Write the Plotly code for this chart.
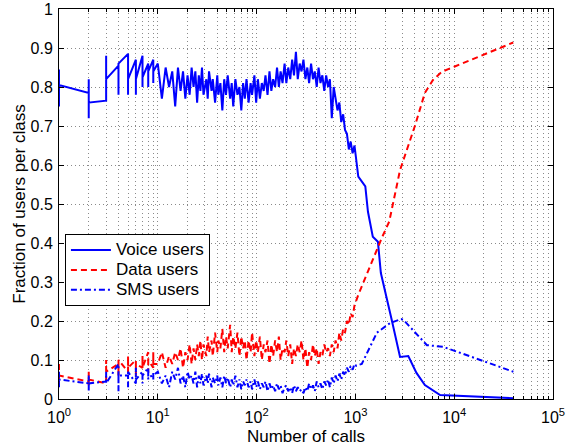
import plotly.graph_objects as go

# ---------------- data ----------------
# discrete region, x = 1..9 (several values per integer x)
low_x = [1, 1, 1, 2, 2, 2, 2, 3, 3, 3, 4, 4, 4, 5, 5, 5, 6, 6, 6, 7, 7, 7, 8, 8, 8, 9, 9, 9]
voice_low = [0.845, 0.75, 0.805, 0.785, 0.82, 0.72, 0.76, 0.765, 0.88, 0.82, 0.855, 0.78, 0.86,
             0.885, 0.78, 0.82, 0.87, 0.78, 0.82, 0.88, 0.80, 0.825, 0.86, 0.80, 0.84, 0.87, 0.81, 0.84]
data_low = [0.09, 0.035, 0.06, 0.045, 0.07, 0.035, 0.05, 0.04, 0.10, 0.07, 0.09, 0.06, 0.10,
            0.07, 0.11, 0.08, 0.10, 0.06, 0.09, 0.08, 0.11, 0.08, 0.12, 0.07, 0.10, 0.08, 0.12, 0.09]
sms_low = [0.07, 0.03, 0.05, 0.04, 0.06, 0.02, 0.04, 0.045, 0.07, 0.04, 0.09, 0.02, 0.06,
           0.06, 0.03, 0.07, 0.04, 0.08, 0.05, 0.07, 0.04, 0.06, 0.08, 0.05, 0.07, 0.05, 0.07, 0.06]

# noisy region, x = 10 .. ~1000
noise_x = [10, 11, 12, 13, 14, 15, 16, 17, 18, 19, 20, 21, 22,
           23, 24, 25, 26, 27, 28, 29,
           31, 32, 33, 35, 36, 38, 40, 41, 43, 45, 47, 49,
           51, 54, 56, 58, 61, 64, 67, 70, 73, 76, 79,
           83, 87, 90, 95, 99,
           103, 108, 113, 118, 123, 129, 135, 141, 147, 154, 161, 168, 175, 183, 192,
           200, 209, 219, 229, 239, 250, 261, 273, 285, 298,
           312, 326, 340, 356, 372, 388, 406, 424, 443, 463, 484,
           506, 529, 552, 577, 603, 630, 659, 688, 719, 752, 785,
           821, 858, 896, 937, 979]
voice_noise = [0.86, 0.77, 0.85, 0.80, 0.84, 0.75, 0.85, 0.79, 0.84, 0.77, 0.83, 0.78, 0.85,
               0.80, 0.84, 0.76, 0.83, 0.79, 0.85, 0.78,
               0.82, 0.77, 0.84, 0.79, 0.82, 0.76, 0.83, 0.78, 0.81, 0.74, 0.82, 0.78,
               0.83, 0.77, 0.81, 0.75, 0.82, 0.78, 0.80, 0.74, 0.81, 0.77, 0.82,
               0.76, 0.81, 0.78, 0.83, 0.76,
               0.82, 0.77, 0.81, 0.79, 0.83, 0.78, 0.84, 0.79, 0.82, 0.80, 0.85, 0.80, 0.84, 0.81, 0.86,
               0.81, 0.85, 0.82, 0.87, 0.83, 0.89, 0.82, 0.86, 0.84, 0.87,
               0.82, 0.85, 0.81, 0.86, 0.82, 0.84, 0.80, 0.85, 0.81, 0.83, 0.79,
               0.83, 0.80, 0.82, 0.72, 0.80, 0.77, 0.74, 0.76, 0.71, 0.73, 0.69,
               0.68, 0.64, 0.66, 0.63, 0.65]
data_noise = [0.09, 0.12, 0.08, 0.11, 0.09, 0.12, 0.10, 0.13, 0.08, 0.12, 0.10, 0.14, 0.09,
              0.13, 0.10, 0.14, 0.11, 0.15, 0.10, 0.14,
              0.11, 0.16, 0.12, 0.15, 0.11, 0.17, 0.12, 0.15, 0.13, 0.18, 0.12, 0.16,
              0.13, 0.19, 0.12, 0.16, 0.13, 0.17, 0.11, 0.16, 0.13, 0.15, 0.10,
              0.15, 0.12, 0.17, 0.11, 0.15,
              0.12, 0.16, 0.10, 0.14, 0.12, 0.15, 0.09, 0.14, 0.11, 0.15, 0.12, 0.16, 0.10, 0.13, 0.12,
              0.15, 0.11, 0.14, 0.09, 0.13, 0.11, 0.14, 0.12, 0.15, 0.10,
              0.13, 0.08, 0.12, 0.10, 0.14, 0.11, 0.13, 0.09, 0.12, 0.11, 0.14,
              0.12, 0.13, 0.11, 0.14, 0.12, 0.15, 0.13, 0.17, 0.15, 0.18, 0.17,
              0.20, 0.19, 0.22, 0.21, 0.24]
sms_noise = [0.07, 0.04, 0.06, 0.03, 0.07, 0.05, 0.08, 0.04, 0.06, 0.03, 0.07, 0.05, 0.06,
             0.04, 0.07, 0.03, 0.06, 0.04, 0.065, 0.035,
             0.06, 0.04, 0.065, 0.03, 0.055, 0.04, 0.06, 0.035, 0.055, 0.03, 0.06, 0.04,
             0.055, 0.03, 0.05, 0.035, 0.06, 0.03, 0.05, 0.025, 0.045, 0.035, 0.05,
             0.03, 0.045, 0.025, 0.05, 0.03,
             0.045, 0.025, 0.04, 0.03, 0.045, 0.02, 0.04, 0.025, 0.035, 0.02, 0.04, 0.025, 0.035, 0.015, 0.03,
             0.035, 0.02, 0.03, 0.015, 0.035, 0.02, 0.03, 0.02, 0.025, 0.015,
             0.03, 0.02, 0.04, 0.025, 0.035, 0.02, 0.045, 0.03, 0.04, 0.025, 0.045,
             0.035, 0.05, 0.03, 0.055, 0.04, 0.06, 0.045, 0.065, 0.05, 0.07, 0.06,
             0.08, 0.07, 0.085, 0.075, 0.09]

# smooth tails, x > 1000
voice_tail_x = [1030, 1070, 1260, 1340, 1500, 1690, 1810, 2030, 2330, 2830, 3430, 4150, 5050, 7200, 39500]
voice_tail = [0.60, 0.57, 0.545, 0.48, 0.416, 0.403, 0.323, 0.27, 0.203, 0.108, 0.11, 0.067, 0.036, 0.01, 0.002]
data_tail_x = [1070, 1400, 1850, 2200, 2830, 4000, 4790, 5050, 6100, 7500, 10000, 19600, 39600]
data_tail = [0.267, 0.34, 0.413, 0.455, 0.587, 0.70, 0.767, 0.785, 0.818, 0.839, 0.852, 0.882, 0.914]
sms_tail_x = [1020, 1160, 1650, 2250, 2900, 3060, 5300, 7700, 39700]
sms_tail = [0.085, 0.09, 0.17, 0.195, 0.205, 0.203, 0.138, 0.134, 0.07]

series_names = ["Voice users", "Data users", "SMS users"]
x_tickvals = [1, 10, 100, 1000, 10000, 100000]
x_ticktext = ["10<sup>0</sup>", "10<sup>1</sup>", "10<sup>2</sup>",
              "10<sup>3</sup>", "10<sup>4</sup>", "10<sup>5</sup>"]
y_tickvals = [0, 0.1, 0.2, 0.3, 0.4, 0.5, 0.6, 0.7, 0.8, 0.9, 1]
y_ticktext = ["0", "0.1", "0.2", "0.3", "0.4", "0.5", "0.6", "0.7", "0.8", "0.9", "1"]

# ---------------- figure ----------------
FONT = "Liberation Sans, Arial, sans-serif"
BLUE = "#0000FF"
RED = "#FF0000"


def legend_label(s):
    return '<span style="font-size:17px">' + s + '</span>'


fig = go.Figure()
fig.add_trace(go.Scatter(
    x=low_x + noise_x + voice_tail_x, y=voice_low + voice_noise + voice_tail,
    mode="lines", name=legend_label(series_names[0]), line=dict(color=BLUE, width=2)))
fig.add_trace(go.Scatter(
    x=low_x + noise_x + data_tail_x, y=data_low + data_noise + data_tail,
    mode="lines", name=legend_label(series_names[1]),
    line=dict(color=RED, width=2, dash="6px,4px")))
fig.add_trace(go.Scatter(
    x=low_x + noise_x + sms_tail_x, y=sms_low + sms_noise + sms_tail,
    mode="lines", name=legend_label(series_names[2]),
    line=dict(color=BLUE, width=2, dash="6px,3px,2px,3px")))

minor_x = [m * 10 ** e for e in range(5) for m in range(2, 10)]
GRID = "#8a8a8a"
GDASH = "1px,3px"

fig.update_layout(
    width=566, height=447,
    margin=dict(l=59, r=13, t=9, b=48, autoexpand=False),
    paper_bgcolor="white", plot_bgcolor="white",
    font=dict(family=FONT, size=16, color="black"),
    showlegend=True,
    legend=dict(x=0.012, y=0.423, xanchor="left", yanchor="top",
                bgcolor="white", bordercolor="black", borderwidth=1,
                font=dict(size=13), tracegroupgap=0, itemwidth=40),
    xaxis=dict(type="log", range=[0, 5], automargin=False,
               tickmode="array", tickvals=x_tickvals, ticktext=x_ticktext,
               ticks="inside", ticklen=5, tickcolor="black", ticklabelstandoff=4,
               showline=True, linecolor="black", linewidth=1, mirror="allticks",
               showgrid=True, gridcolor=GRID, griddash=GDASH, gridwidth=1,
               zeroline=False,
               minor=dict(tickmode="array", tickvals=minor_x, ticks="inside", ticklen=3,
                          tickcolor="black", showgrid=True, gridcolor=GRID,
                          griddash=GDASH, gridwidth=1),
               title=dict(text="Number of calls", font=dict(size=17), standoff=4),
               tickfont=dict(size=16)),
    yaxis=dict(range=[0, 1], automargin=False,
               tickmode="array", tickvals=y_tickvals, ticktext=y_ticktext,
               ticks="inside", ticklen=5, tickcolor="black", ticklabelstandoff=2,
               showline=True, linecolor="black", linewidth=1, mirror="allticks",
               showgrid=True, gridcolor=GRID, griddash=GDASH, gridwidth=1,
               zeroline=False,
               title=dict(text="Fraction of users per class", font=dict(size=17), standoff=0),
               tickfont=dict(size=16)),
)

fig.write_html("out.html")
